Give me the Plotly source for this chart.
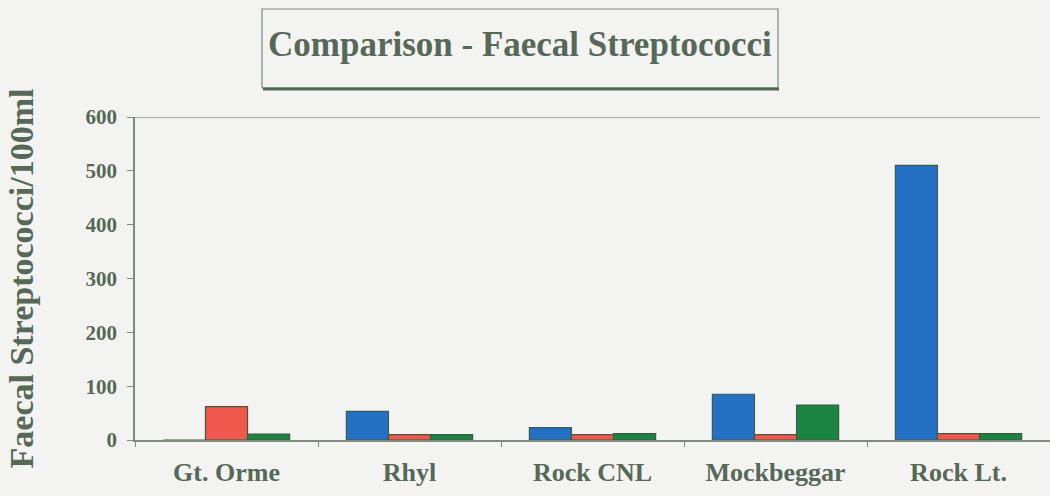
import plotly.graph_objects as go

categories = ["Gt. Orme", "Rhyl", "Rock CNL", "Mockbeggar", "Rock Lt."]
series_blue = [0, 53, 23, 85, 510]
series_red = [62, 10, 10, 10, 12]
series_green = [11, 10, 12, 65, 12]
y_ticks = [0, 100, 200, 300, 400, 500, 600]

TXT = "#566857"
FONT = "Liberation Serif"
EDGE = "#3f5a40"

fig = go.Figure()
for vals, col in [(series_blue, "#2470c4"), (series_red, "#f0584e"), (series_green, "#1b8443")]:
    fig.add_trace(go.Bar(x=categories, y=vals, marker=dict(color=col, line=dict(color=EDGE, width=1.2)),
                         showlegend=False))

W, H = 1050, 496
L, R, T, B = 135, 0, 117, 56
pw, ph = W - L - R, H - T - B

def px(x):
    return (x - L) / pw

def py(y):
    return (H - B - y) / ph

fig.update_layout(
    width=W, height=H,
    margin=dict(l=L, r=R, t=T, b=B),
    paper_bgcolor="#f3f4f1", plot_bgcolor="#f3f4f1",
    barmode="group", bargap=0.31, bargroupgap=0,
    font=dict(family=FONT, color=TXT),
    xaxis=dict(showline=True, linecolor="#7d8a7d", linewidth=1.5, ticks="outside", tickson="boundaries",
               ticklen=5, tickcolor="#7d8a7d", ticklabelstandoff=8,
               tickfont=dict(size=26, family=FONT, color=TXT, weight="bold"),
               showgrid=False),
    yaxis=dict(range=[0, 600], tickvals=y_ticks, showline=True, linecolor="#7d8a7d", linewidth=1.5,
               ticks="outside", ticklen=6, tickcolor="#7d8a7d", showgrid=False, zeroline=False,
               ticklabelstandoff=6,
               tickfont=dict(size=21, family=FONT, color=TXT, weight="bold"),
               title=dict(text="Faecal Streptococci/100ml",
                          font=dict(size=34, family=FONT, color=TXT, weight="bold"),
                          standoff=42)),
    shapes=[
        dict(type="line", xref="paper", yref="y", x0=0, x1=px(1040), y0=600, y1=600,
             line=dict(color="#8a968a", width=1.5)),
        dict(type="rect", xref="paper", yref="paper", x0=px(262), x1=px(778), y0=py(88), y1=py(9),
             line=dict(color="#7a887a", width=1.2)),
        dict(type="line", xref="paper", yref="paper", x0=px(263), x1=px(779), y0=py(89), y1=py(89),
             line=dict(color="#4f6a52", width=3)),
    ],
    annotations=[
        dict(text="Comparison - Faecal Streptococci", xref="paper", yref="paper",
             x=px(520), y=py(44), showarrow=False, xanchor="center", yanchor="middle",
             font=dict(size=35, family=FONT, color=TXT, weight="bold")),
    ],
)

fig.write_html("out.html", config={"displayModeBar": False},
               post_script="document.body.style.margin='0';document.body.style.padding='0';")
